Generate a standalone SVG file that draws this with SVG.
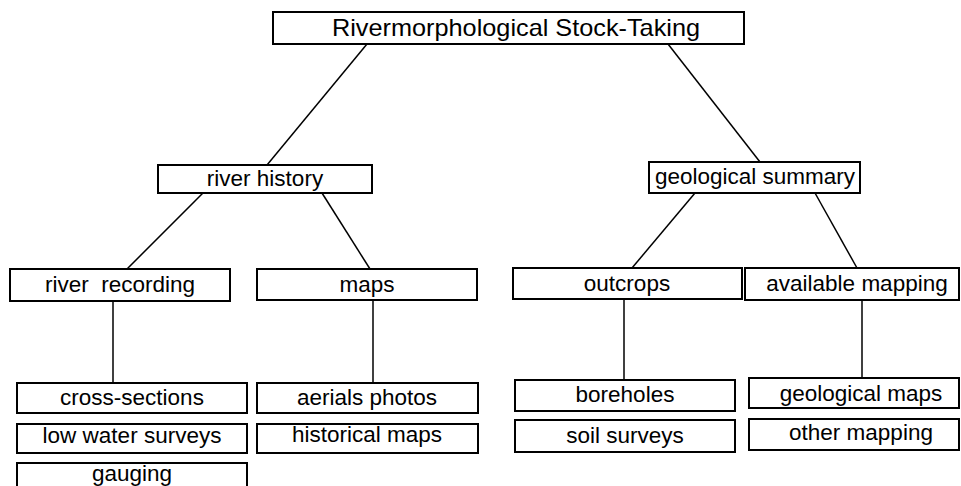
<svg xmlns="http://www.w3.org/2000/svg" width="961" height="486" viewBox="0 0 961 486">
<style>
.box{fill:#fff;stroke:#000;stroke-width:2}
.lbl{font-family:"Liberation Sans",Arial,sans-serif;font-size:22.5px;fill:#000;text-anchor:middle}
.t{font-size:24px}
.con line{stroke:#000;stroke-width:1.5}
</style>
<rect width="961" height="486" fill="#fff"/>
<g class="con">
<line x1="367" y1="44" x2="267" y2="165"/>
<line x1="668" y1="44" x2="760" y2="162"/>
<line x1="203" y1="193" x2="127" y2="269"/>
<line x1="322" y1="193" x2="370" y2="269"/>
<line x1="695" y1="193" x2="632" y2="268"/>
<line x1="815" y1="193" x2="857" y2="268"/>
<line x1="113" y1="301" x2="113" y2="383"/>
<line x1="373" y1="300" x2="373" y2="383"/>
<line x1="624" y1="299" x2="624" y2="380"/>
<line x1="862" y1="300" x2="862" y2="378"/>
</g>
<g id="root"><rect class="box" x="273" y="12" width="471" height="32"/><text class="lbl t" x="516" y="36" textLength="368" lengthAdjust="spacingAndGlyphs">Rivermorphological Stock-Taking</text></g>
<g id="river-history"><rect class="box" x="158" y="165" width="214" height="28"/><text class="lbl" x="265" y="186">river history</text></g>
<g id="geological-summary"><rect class="box" x="649" y="162" width="211" height="31"/><text class="lbl" x="755" y="184">geological summary</text></g>
<g id="river-recording"><rect class="box" x="10" y="269" width="220" height="32"/><text class="lbl" x="120" y="292" xml:space="preserve">river  recording</text></g>
<g id="maps"><rect class="box" x="257" y="269" width="220" height="31"/><text class="lbl" x="367" y="292">maps</text></g>
<g id="outcrops"><rect class="box" x="513" y="268" width="229" height="31"/><text class="lbl" x="627" y="291">outcrops</text></g>
<g id="available-mapping"><rect class="box" x="745" y="268" width="214" height="32"/><text class="lbl" x="857" y="291">available mapping</text></g>
<g id="cross-sections"><rect class="box" x="17" y="383" width="230" height="30"/><text class="lbl" x="132" y="405">cross-sections</text></g>
<g id="low-water-surveys"><rect class="box" x="17" y="424" width="230" height="29"/><text class="lbl" x="132" y="443">low water surveys</text></g>
<g id="gauging"><rect class="box" x="17" y="463" width="230" height="30"/><text class="lbl" x="132" y="481">gauging</text></g>
<g id="aerials-photos"><rect class="box" x="257" y="383" width="221" height="30"/><text class="lbl" x="367" y="405">aerials photos</text></g>
<g id="historical-maps"><rect class="box" x="257" y="424" width="221" height="29"/><text class="lbl" x="367" y="442">historical maps</text></g>
<g id="boreholes"><rect class="box" x="515" y="380" width="220" height="31"/><text class="lbl" x="625" y="402">boreholes</text></g>
<g id="soil-surveys"><rect class="box" x="515" y="420" width="220" height="32"/><text class="lbl" x="625" y="443">soil surveys</text></g>
<g id="geological-maps"><rect class="box" x="749" y="378" width="210" height="30"/><text class="lbl" x="861" y="401">geological maps</text></g>
<g id="other-mapping"><rect class="box" x="749" y="419" width="210" height="31"/><text class="lbl" x="861" y="440">other mapping</text></g>
</svg>
